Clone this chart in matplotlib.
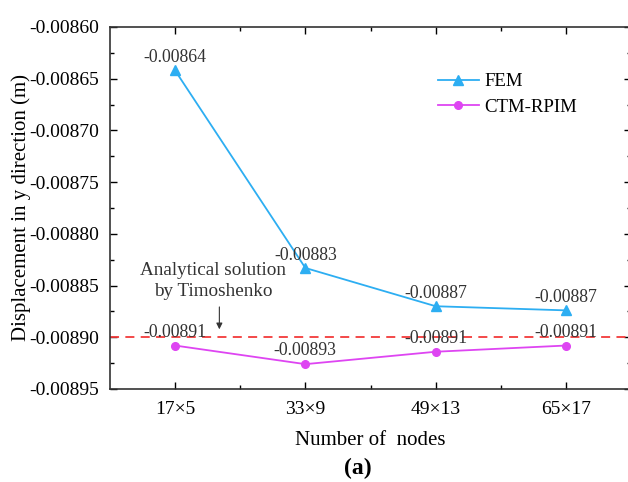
import numpy as np
import matplotlib
matplotlib.use("Agg")
import matplotlib.pyplot as plt

plt.rcParams['font.family'] = ['Liberation Serif', 'DejaVu Serif']

# data
nodes = ['17×5', '33×9', '49×13', '65×17']
fem = [-0.008642, -0.008833, -0.008870, -0.008874]
ctm = [-0.008908, -0.008926, -0.008914, -0.008908]
fem_lbl = ['-0.00864', '-0.00883', '-0.00887', '-0.00887']
ctm_lbl = ['-0.00891', '-0.00893', '-0.00891', '-0.00891']
analytic = -0.00890

fig = plt.figure(figsize=(6.28, 4.82), dpi=100)
ax = fig.add_axes([0.175, 0.193, 0.830, 0.751])

x = np.arange(1, len(nodes) + 1)
ax.plot(x, fem, color='#2DAEF2', lw=1.3, marker='^', ms=6.5, label='FEM')
ax.plot(x, ctm, color='#DE45F2', lw=1.3, marker='o', ms=5.5, label='CTM-RPIM')
ax.axhline(analytic, color='#F23A3A', lw=1.3, ls=(0, (5, 3.5)))

for xi, v, s in zip(x, fem, fem_lbl):
    ax.annotate(s, (xi, v), xytext=(0, 9), textcoords='offset points',
                ha='center', va='center', fontsize=12.8, color='#333333')
for xi, v, s in zip(x, ctm, ctm_lbl):
    ax.annotate(s, (xi, v), xytext=(0, 9.5), textcoords='offset points',
                ha='center', va='center', fontsize=12.8, color='#333333')

ax.text(1.29, -0.008846, 'Analytical solution\nby Timoshenko', ha='center',
        va='center', fontsize=13.8, color='#333333', linespacing=1.3)
ax.annotate('', xy=(1.34, -0.008895), xytext=(1.34, -0.008868),
            arrowprops=dict(arrowstyle='-|>', color='#333333', lw=0.8,
                            mutation_scale=9))

ax.set_xlim(0.5, 4.5)
ax.set_ylim(-0.00895, -0.00860)
ax.set_xticks(x)
ax.set_xticklabels(nodes)
ax.set_xticks(x[:-1] + 0.5, minor=True)
ax.set_yticks(np.arange(-0.00895, -0.008599, 0.00005))
ax.set_yticks(np.arange(-0.008925, -0.0086, 0.00005), minor=True)
ax.yaxis.set_major_formatter(matplotlib.ticker.FormatStrFormatter('%.5f'))
ax.tick_params(which='both', direction='in', top=True, right=True, labelsize=14)
ax.tick_params(axis='y', pad=8)
ax.tick_params(axis='x', pad=9)
ax.tick_params(which='major', length=5, width=1)
ax.tick_params(which='minor', length=3, width=1)
for sp in ax.spines.values():
    sp.set_linewidth(1.2)
    sp.set_color('#333333')

ax.set_xlabel('Number of  nodes', fontsize=15, labelpad=9)
ax.set_ylabel('Displacement in y direction (m)', fontsize=15)
ax.yaxis.set_label_coords(-0.152, 0.5)
fig.text(0.57, 0.029, '(a)', fontsize=17, fontweight='bold', ha='center', va='center')

ax.legend(loc='upper left', bbox_to_anchor=(0.629, 0.873), frameon=False,
          borderaxespad=0, borderpad=0,
          fontsize=13.5, handlelength=2.2, handletextpad=0.3, labelspacing=0.45)

fig.savefig('out.png', dpi=100)
